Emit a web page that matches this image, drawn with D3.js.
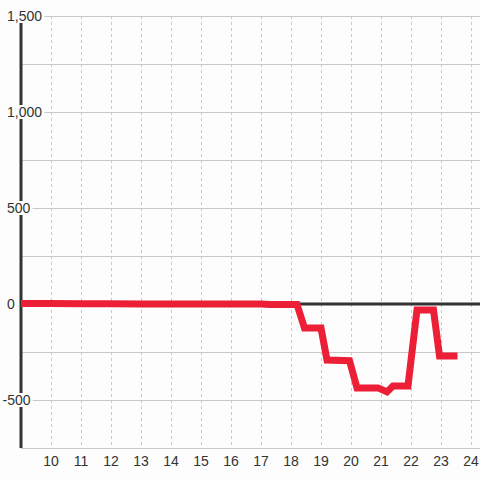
<!DOCTYPE html>
<html>
<head>
<meta charset="utf-8">
<script src="https://cdn.jsdelivr.net/npm/d3@7"></script>
<style>
  html, body { margin: 0; padding: 0; background: #fcfdfc; }
  svg { display: block; font-family: "Liberation Sans", Arial, sans-serif; }
</style>
</head>
<body>
<div id="chart"></div>
<script>
// series values
const hours  = [9, 10, 11, 12, 13, 14, 15, 16, 17, 17.3, 18.2, 18.45, 19.0, 19.2, 19.95, 20.2, 20.9, 21.2, 21.4, 21.9, 22.2, 22.75, 22.95, 23.55];
const values = [3, 3, 1, 1, 0, 0, 0, 0, 0, -2, -2, -125, -125, -292, -295, -437, -437, -458, -427, -427, -31, -31, -271, -271];

const xTicks = [10, 11, 12, 13, 14, 15, 16, 17, 18, 19, 20, 21, 22, 23, 24];
const yGrid  = [-750, -500, -250, 0, 250, 500, 750, 1000, 1250, 1500];
const yLabels = [-500, 0, 500, 1000, 1500];

const width = 480,
  height = 480,
  margin = { top: 16, bottom: 32, left: 21, right: 0 },
  bg = "#fcfdfc";

const data = hours.map((h, i) => ({ h: h, v: values[i] }));

const svg = d3.select("#chart")
  .append("svg")
  .attr("width", width)
  .attr("height", height);

svg.append("rect")
  .attr("width", width)
  .attr("height", height)
  .attr("fill", bg);

const xScale = d3.scaleLinear()
  .domain([9, 24.3])
  .range([margin.left, width - margin.right]);

const yScale = d3.scaleLinear()
  .domain([-750, 1500])
  .range([height - margin.bottom, margin.top]);

// vertical dashed grid
svg.append("g")
  .selectAll("line")
  .data(xTicks)
  .join("line")
  .attr("x1", d => Math.round(xScale(d)) + 0.5)
  .attr("x2", d => Math.round(xScale(d)) + 0.5)
  .attr("y1", yScale(1500))
  .attr("y2", yScale(-750))
  .attr("stroke", "#c8c8c8")
  .attr("stroke-dasharray", "3,3");

// horizontal grid
svg.append("g")
  .selectAll("line")
  .data(yGrid)
  .join("line")
  .attr("x1", margin.left)
  .attr("x2", width)
  .attr("y1", d => Math.round(yScale(d)) + 0.5)
  .attr("y2", d => Math.round(yScale(d)) + 0.5)
  .attr("stroke", "#c8c8c8");

// y axis line
svg.append("line")
  .attr("x1", xScale(9))
  .attr("x2", xScale(9))
  .attr("y1", yScale(1500))
  .attr("y2", yScale(-750))
  .attr("stroke", "#333")
  .attr("stroke-width", 3);

// zero line
svg.append("line")
  .attr("x1", margin.left)
  .attr("x2", width)
  .attr("y1", yScale(0))
  .attr("y2", yScale(0))
  .attr("stroke", "#333")
  .attr("stroke-width", 3);

// the series
const line = d3.line()
  .x(d => xScale(d.h))
  .y(d => yScale(d.v));

svg.append("path")
  .datum(data)
  .attr("d", line)
  .attr("fill", "none")
  .attr("stroke", "#ec1f36")
  .attr("stroke-width", 7)
  .attr("stroke-linejoin", "miter");

// y labels with background boxes
const fmt = d3.format(",");
const yl = svg.append("g")
  .selectAll("g")
  .data(yLabels)
  .join("g")
  .attr("transform", d => `translate(${d < 0 ? 2.5 : 7},${yScale(d)})`);

yl.append("text")
  .attr("dy", "0.35em")
  .attr("font-size", 14)
  .attr("fill", "#333")
  .text(d => fmt(d).replace("−", "-"))
  .each(function() {
    const b = this.getBBox();
    d3.select(this.parentNode)
      .insert("rect", "text")
      .attr("x", b.x - 1)
      .attr("y", -7)
      .attr("width", b.width + 3)
      .attr("height", 14)
      .attr("fill", bg);
  });

// x labels
svg.append("g")
  .selectAll("text")
  .data(xTicks)
  .join("text")
  .attr("x", d => xScale(d))
  .attr("y", 466)
  .attr("text-anchor", "middle")
  .attr("font-size", 14)
  .attr("fill", "#333")
  .text(d => d);
</script>
</body>
</html>
